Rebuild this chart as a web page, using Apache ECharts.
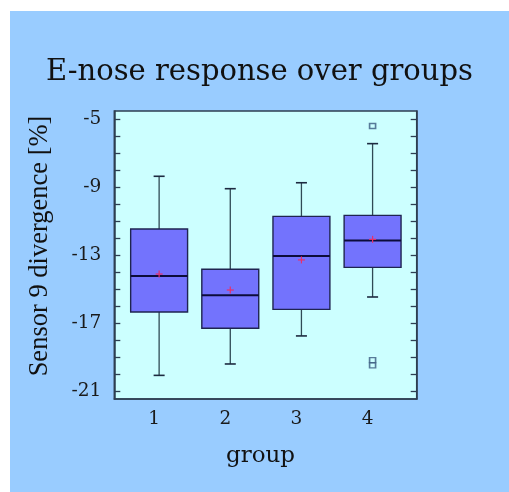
<!DOCTYPE html>
<html>
<head>
<meta charset="utf-8">
<script src="https://cdn.jsdelivr.net/npm/echarts@6/dist/echarts.min.js"></script>
<style>
html,body{margin:0;padding:0;background:#ffffff;width:509px;height:492px;overflow:hidden;}
#chart{position:absolute;left:10px;top:11px;width:499px;height:481px;background:#99ccff;}
</style>
</head>
<body>
<div id="chart"></div>
<script>
// ---- data ----
var groups = [1, 2, 3, 4];
var whiskerLow  = [-20.08, -19.41, -17.76, -15.47];
var q1          = [-16.35, -17.31, -16.20, -13.73];
var median      = [-14.24, -15.37, -13.06, -12.14];
var q3          = [-11.47, -13.84, -10.73, -10.67];
var whiskerHigh = [-8.37,  -9.10,  -8.75,  -6.45];
var means       = [-14.12, -15.06, -13.29, -12.08];
var outlierGroup = [4, 4, 4];
var outlierValue = [-5.41, -19.18, -19.49];
var yTickValues  = [-21,-20,-19,-18,-17,-16,-15,-14,-13,-12,-11,-10,-9,-8,-7,-6,-5];
var yLabelValues = [-21, -17, -13, -9, -5];
var xLabelValues = [1, 2, 3, 4];

var boxData = groups.map(function (g, i) {
  return [g, whiskerLow[i], q1[i], median[i], q3[i], whiskerHigh[i], means[i]];
});
var outlierData = outlierGroup.map(function (g, i) { return [g, outlierValue[i]]; });

var chart = echarts.init(document.getElementById('chart'), null, {renderer: 'canvas'});

var frameColor = '#2e3f52';
var serifH = 'DejaVu Serif';

function renderBox(params, api) {
  var x = api.value(0);
  var lo = api.coord([x, api.value(1)]);
  var b1 = api.coord([x, api.value(2)]);
  var md = api.coord([x, api.value(3)]);
  var b3 = api.coord([x, api.value(4)]);
  var hi = api.coord([x, api.value(5)]);
  var mn = api.coord([x, api.value(6)]);
  var bw = api.size([0.8, 0])[0];
  var cw = api.size([0.155, 0])[0];
  var cx = lo[0];
  var whiskerStyle = {stroke: '#2f4a55', lineWidth: 1.3};
  var plus = 3.5;
  return {
    type: 'group',
    children: [
      {type: 'line', shape: {x1: cx, y1: b3[1], x2: cx, y2: hi[1]}, style: whiskerStyle},
      {type: 'line', shape: {x1: cx, y1: b1[1], x2: cx, y2: lo[1]}, style: whiskerStyle},
      {type: 'line', shape: {x1: cx - cw / 2, y1: hi[1], x2: cx + cw / 2, y2: hi[1]}, style: {stroke: '#1d2a40', lineWidth: 1.6}},
      {type: 'line', shape: {x1: cx - cw / 2, y1: lo[1], x2: cx + cw / 2, y2: lo[1]}, style: {stroke: '#1d2a40', lineWidth: 1.6}},
      {type: 'rect', shape: {x: cx - bw / 2, y: b3[1], width: bw, height: b1[1] - b3[1]},
        style: {fill: '#7373fd', stroke: '#1f2450', lineWidth: 1.4}},
      {type: 'line', shape: {x1: cx - bw / 2, y1: md[1], x2: cx + bw / 2, y2: md[1]}, style: {stroke: '#0c0c3a', lineWidth: 2}},
      {type: 'line', shape: {x1: cx - plus, y1: mn[1], x2: cx + plus, y2: mn[1]}, style: {stroke: '#e8306a', lineWidth: 1.2}},
      {type: 'line', shape: {x1: cx, y1: mn[1] - plus, x2: cx, y2: mn[1] + plus}, style: {stroke: '#e8306a', lineWidth: 1.2}}
    ]
  };
}

var yAxisCommon = {
  type: 'value',
  min: -21.47,
  max: -4.53,
  splitLine: {show: false},
  axisLine: {show: true, lineStyle: {color: frameColor, width: 1.5}},
  axisTick: {show: true, inside: true, length: 6, customValues: yTickValues, lineStyle: {color: frameColor, width: 1.3}}
};

chart.setOption({
  backgroundColor: '#99ccff',
  animation: false,
  title: {
    text: 'E-nose response over groups',
    left: 'center',
    top: 42,
    textStyle: {fontFamily: serifH, fontSize: 29, fontWeight: 'normal', color: '#111111'}
  },
  grid: {
    left: 104.3, right: 92.3, top: 100, bottom: 93,
    show: true, backgroundColor: '#ccffff', borderColor: frameColor, borderWidth: 1.5
  },
  xAxis: {
    type: 'value',
    min: 0.37,
    max: 4.62,
    name: 'group',
    nameLocation: 'middle',
    nameGap: 46,
    nameTextStyle: {fontFamily: serifH, fontSize: 23, color: '#111111', padding: [0, 10, 0, 0]},
    splitLine: {show: false},
    axisLine: {show: true, lineStyle: {color: frameColor, width: 1.5}},
    axisTick: {show: false},
    axisLabel: {
      customValues: xLabelValues,
      margin: 11,
      padding: [0, 10, 0, 0],
      fontFamily: serifH, fontSize: 18.5, color: '#1a1a1a'
    }
  },
  yAxis: [
    Object.assign({}, yAxisCommon, {
      position: 'left',
      name: 'Sensor 9 divergence [%]',
      nameLocation: 'middle',
      nameGap: 61,
      nameTextStyle: {fontFamily: 'Liberation Serif', fontSize: 26.5, color: '#111111', padding: [0, 0, 0, 18]},
      axisLabel: {customValues: yLabelValues, margin: 13, fontFamily: serifH, fontSize: 18.5, color: '#1a1a1a'}
    }),
    Object.assign({}, yAxisCommon, {
      position: 'right',
      axisLabel: {show: false}
    })
  ],
  series: [
    {
      type: 'custom',
      renderItem: renderBox,
      data: boxData,
      encode: {x: 0, y: [1, 2, 3, 4, 5, 6]},
      clip: false,
      z: 3
    },
    {
      type: 'scatter',
      data: outlierData,
      symbol: 'rect',
      symbolSize: [6, 5],
      itemStyle: {color: 'rgba(0,0,0,0)', borderColor: '#3a5a80', borderWidth: 1.5},
      z: 4
    }
  ]
});
</script>
</body>
</html>
